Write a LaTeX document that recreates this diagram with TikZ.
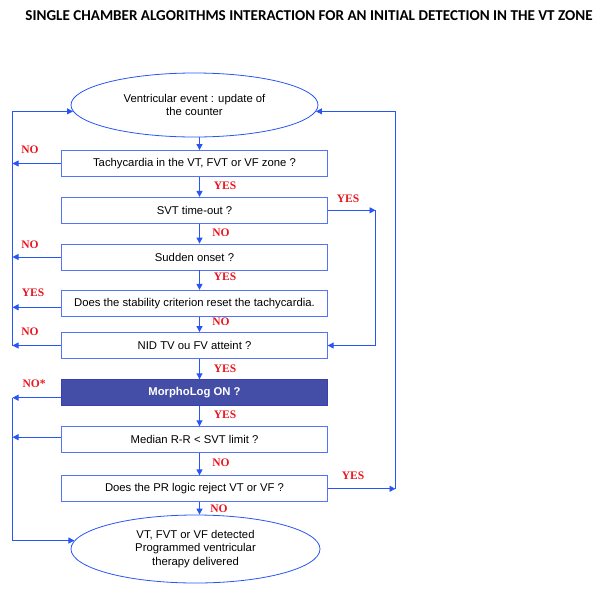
\documentclass[tikz,border=0pt]{standalone}
\usepackage{fontspec}
\setmainfont{Liberation Sans}
\newfontfamily\titlefont{Carlito}
\newfontfamily\labelfont{Liberation Serif}
\usetikzlibrary{arrows.meta,shapes.geometric}
\definecolor{lineblue}{RGB}{40,85,245}
\definecolor{boxblue}{RGB}{85,115,250}
\definecolor{morph}{RGB}{68,78,166}
\definecolor{lblred}{RGB}{235,20,30}
\begin{document}
\begin{tikzpicture}[x=1pt,y=-1pt,
  box/.style={draw=boxblue, line width=0.8pt, minimum width=265.5pt, minimum height=26pt, inner sep=0pt, font=\fontsize{11.3}{13}\selectfont},
  oval/.style={ellipse, draw=lineblue, line width=0.8pt, inner sep=0pt, align=center, font=\fontsize{11.3}{13.3}\selectfont},
  arr/.style={draw=lineblue, line width=0.9pt, -{Triangle[length=6pt,width=6pt]}},
  lbl/.style={text=lblred, font=\labelfont\bfseries\fontsize{11.5}{12}\selectfont, inner sep=0pt}]
\useasboundingbox (0,0) rectangle (607,600);
\node[inner sep=0pt] (title) at (309,16) {\resizebox{567pt}{!}{\titlefont\bfseries\fontsize{12}{14}\selectfont SINGLE CHAMBER ALGORITHMS INTERACTION FOR AN INITIAL DETECTION IN THE VT ZONE}};

\coordinate (ax) at (199.5,0);
\coordinate (L) at (12.5,0);
\coordinate (R1) at (375.5,0);
\coordinate (R2) at (395.5,0);

\node[oval, minimum width=247pt, minimum height=64pt] (e1) at (194.5,105) {Ventricular event : update of\\the counter};
\node[box] (b1) at (194.5,163.5) {Tachycardia in the VT, FVT or VF zone ?};
\node[box] (b2) at (194.5,210.3) {SVT time-out ?};
\node[box] (b3) at (194.5,257) {Sudden onset ?};
\node[box] (b4) at (194.5,303.3) {Does the stability criterion reset the tachycardia.};
\node[box] (b5) at (194.5,345.5) {NID TV ou FV atteint ?};
\node[box, fill=morph, draw=morph!80!blue, text=white, font=\bfseries\fontsize{11.3}{13}\selectfont] (b6) at (194.5,392.7) {MorphoLog ON ?};
\node[box] (b7) at (194.5,439.7) {Median R-R < SVT limit ?};
\node[box] (b8) at (194.5,488.8) {Does the PR logic reject VT or VF ?};
\node[oval, minimum width=249pt, minimum height=68pt] (e2) at (195.5,549) {VT, FVT or VF detected\\Programmed ventricular\\therapy delivered};

% vertical flow
\draw[arr] (e1.south -| ax) -- (b1.north -| ax);
\draw[arr] (b1.south -| ax) -- (b2.north -| ax);
\draw[arr] (b2.south -| ax) -- (b3.north -| ax);
\draw[arr] (b3.south -| ax) -- (b4.north -| ax);
\draw[arr] (b4.south -| ax) -- (b5.north -| ax);
\draw[arr] (b5.south -| ax) -- (b6.north -| ax);
\draw[arr] (b6.south -| ax) -- (b7.north -| ax);
\draw[arr] (b7.south -| ax) -- (b8.north -| ax);
\draw[arr] (b8.south -| ax) -- (e2.north -| ax);

% left loops (upper)
\coordinate (w4) at ([yshift=-4pt]b4.west);
\draw[arr] (b1.west) -- (b1.west -| L);
\draw[arr] (b3.west) -- (b3.west -| L);
\draw[arr] (w4) -- (w4 -| L);
\draw[arr] (b5.west) -- (b5.west -| L);
\draw[arr] (b5.west -| L) -- (L |- e1.183) -- (e1.183);

% left loops (lower)
\coordinate (w6) at ([yshift=-5pt]b6.west);
\coordinate (w7) at ([yshift=2.5pt]b7.west);
\draw[arr] (w6) -- (w6 -| L);
\draw[arr] (w7) -- (w7 -| L);
\draw[arr] (w6 -| L) -- (L |- e2.176) -- (e2.176);

% right loops
\draw[arr] (b2.east) -- (b2.east -| R1);
\draw[arr] (b2.east -| R1) -- (R1 |- b5.east) -- (b5.east);
\draw[arr] (b8.east) -- (b8.east -| R2);
\draw[arr] (b8.east -| R2) -- (R2 |- e1.357) -- (e1.357);

% labels
\node[lbl] (n1) at (30,150) {NO};
\node[lbl] (y1) at (225,186) {YES};
\node[lbl] (y2) at (348,199) {YES};
\node[lbl] (n2) at (221,232.7) {NO};
\node[lbl] (n3) at (30,245) {NO};
\node[lbl] (y3) at (225,277) {YES};
\node[lbl] (y4) at (33,293) {YES};
\node[lbl] (n4) at (221,322) {NO};
\node[lbl] (n5) at (30,332) {NO};
\node[lbl] (y5) at (225,369) {YES};
\node[lbl] (n6) at (34,384) {NO*};
\node[lbl] (y6) at (225,415) {YES};
\node[lbl] (n7) at (221,462.7) {NO};
\node[lbl] (y8) at (353,476) {YES};
\node[lbl] (n8) at (219,509) {NO};
\end{tikzpicture}
\end{document}
